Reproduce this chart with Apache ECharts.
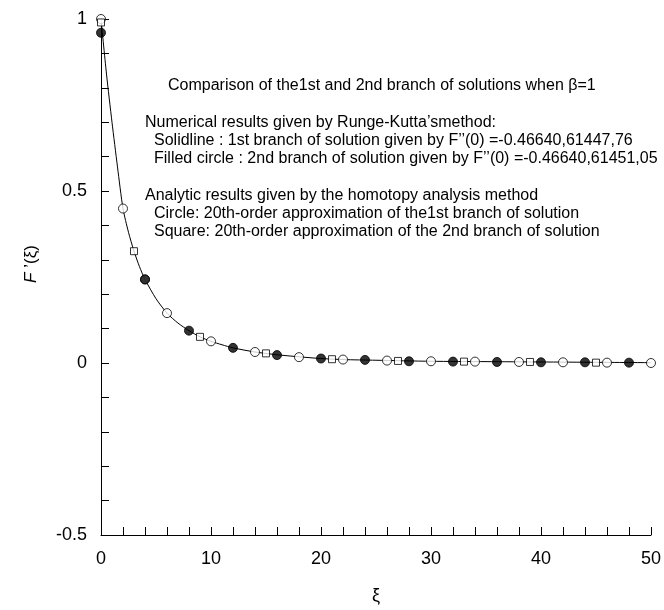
<!DOCTYPE html>
<html>
<head>
<meta charset="utf-8">
<script src="https://cdn.jsdelivr.net/npm/echarts@6/dist/echarts.min.js"></script>
<style>
  html, body { margin: 0; padding: 0; background: #fff; }
  #chart { width: 664px; height: 610px; }
</style>
</head>
<body>
<div id="chart"></div>
<script>
// Solid line: 1st branch (Runge-Kutta)
const lineXi = [0, 0.5, 1, 1.5, 2, 2.5, 3, 3.5, 4, 5, 6, 7, 8, 9, 10, 11, 12, 14, 16, 18, 20, 22, 25, 30, 35, 40, 45, 50];
const lineF  = [1.0, 0.84, 0.70, 0.57, 0.449, 0.38, 0.325, 0.28, 0.243, 0.187, 0.145, 0.116, 0.094, 0.076, 0.063, 0.053, 0.044, 0.032, 0.024, 0.018, 0.013, 0.010, 0.008, 0.005, 0.004, 0.003, 0.002, 0.001];

// Filled circles: 2nd branch (Runge-Kutta)
const filledXi = [0, 4, 8, 12, 16, 20, 24, 28, 32, 36, 40, 44, 48];
const filledF  = [0.96, 0.243, 0.094, 0.044, 0.023, 0.013, 0.009, 0.005, 0.004, 0.003, 0.002, 0.002, 0.001];

// Hollow circles: HAM 1st branch
const circleXi = [0, 2, 4, 6, 10, 14, 18, 22, 26, 30, 34, 38, 42, 46, 50];
const circleF  = [1.0, 0.449, 0.243, 0.145, 0.063, 0.032, 0.017, 0.010, 0.007, 0.005, 0.004, 0.003, 0.002, 0.001, 0.0];

// Squares: HAM 2nd branch
const squareXi = [0, 3, 9, 15, 21, 27, 33, 39, 45];
const squareF  = [0.99, 0.325, 0.076, 0.028, 0.011, 0.006, 0.004, 0.003, 0.001];

const yTicks = [-0.5, 0, 0.5, 1];
const xTicks = [0, 10, 20, 30, 40, 50];

const annotation = [
  'Comparison of the1st and 2nd branch of solutions when \u03B2=1',
  'Numerical results given by Runge-Kutta\u2019smethod:',
  'Solidline : 1st branch of solution given by F\u2019\u2019(0) =-0.46640,61447,76',
  'Filled circle : 2nd branch of solution given by F\u2019\u2019(0) =-0.46640,61451,05',
  'Analytic results given by the homotopy analysis method',
  'Circle: 20th-order approximation of the1st branch of solution',
  'Square: 20th-order approximation of the 2nd branch of solution'
];
const annX = [168, 145, 154, 154, 145, 154, 154];
const annY = [86, 123, 141, 159, 196, 214, 232];

const zip = (a, b) => a.map((v, i) => [v, b[i]]);
const FONT = '"Liberation Sans", Arial, Helvetica, sans-serif';

const chart = echarts.init(document.getElementById('chart'), null, { renderer: 'canvas' });
chart.setOption({
  animation: false,
  backgroundColor: '#fff',
  grid: { left: 101, right: 13, top: 19, bottom: 69, containLabel: false },
  xAxis: {
    type: 'value', min: xTicks[0], max: xTicks[xTicks.length - 1], interval: 10,
    name: '\u03BE', nameLocation: 'middle', nameGap: 52,
    nameTextStyle: { fontFamily: FONT, fontSize: 18, color: '#000' },
    axisLine: { onZero: false, lineStyle: { color: '#000', width: 1 } },
    axisTick: { inside: true, length: 8, lineStyle: { color: '#000' } },
    minorTick: { show: true, splitNumber: 5, length: 8, lineStyle: { color: '#000' } },
    axisLabel: { color: '#000', fontFamily: FONT, fontSize: 18, margin: 15 },
    splitLine: { show: false }
  },
  yAxis: {
    type: 'value', min: yTicks[0], max: yTicks[yTicks.length - 1], interval: 0.5,
    axisLine: { onZero: false, lineStyle: { color: '#000', width: 1 } },
    axisTick: { inside: true, length: 8, lineStyle: { color: '#000' } },
    minorTick: { show: true, splitNumber: 5, length: 8, lineStyle: { color: '#000' } },
    axisLabel: { color: '#000', fontFamily: FONT, fontSize: 18, margin: 14 },
    splitLine: { show: false }
  },
  graphic: annotation.map((t, i) => ({
    type: 'text', x: annX[i], y: annY[i], silent: true,
    style: { text: t, fill: '#000', font: '16px ' + FONT, textVerticalAlign: 'middle', textAlign: 'left' }
  })).concat([{
    type: 'text', x: 31, y: 264, rotation: Math.PI / 2, silent: true,
    style: {
      text: '{i|F} \u2019(\u03BE)', textAlign: 'center', textVerticalAlign: 'middle',
      rich: {
        i: { fontStyle: 'italic', fontFamily: FONT, fontSize: 17, fill: '#000' }
      },
      fontFamily: FONT, fontSize: 17, fill: '#000'
    }
  }]),
  series: [
    {
      type: 'line', data: zip(lineXi, lineF), showSymbol: false, smooth: 0.25, clip: false,
      lineStyle: { color: '#000', width: 1 }, z: 2
    },
    {
      type: 'scatter', data: zip(circleXi, circleF), symbol: 'circle', symbolSize: 9, clip: false,
      itemStyle: { color: '#fff', borderColor: '#000', borderWidth: 1 }, z: 3
    },
    {
      type: 'scatter', data: zip(squareXi, squareF), symbol: 'rect', symbolSize: 7, clip: false,
      itemStyle: { color: '#fff', borderColor: '#000', borderWidth: 1 }, z: 4
    },
    {
      type: 'scatter', data: zip(filledXi, filledF), symbol: 'circle', symbolSize: 9, clip: false,
      itemStyle: { color: '#000', borderColor: '#000', borderWidth: 1 }, z: 5
    }
  ]
});
</script>
</body>
</html>
